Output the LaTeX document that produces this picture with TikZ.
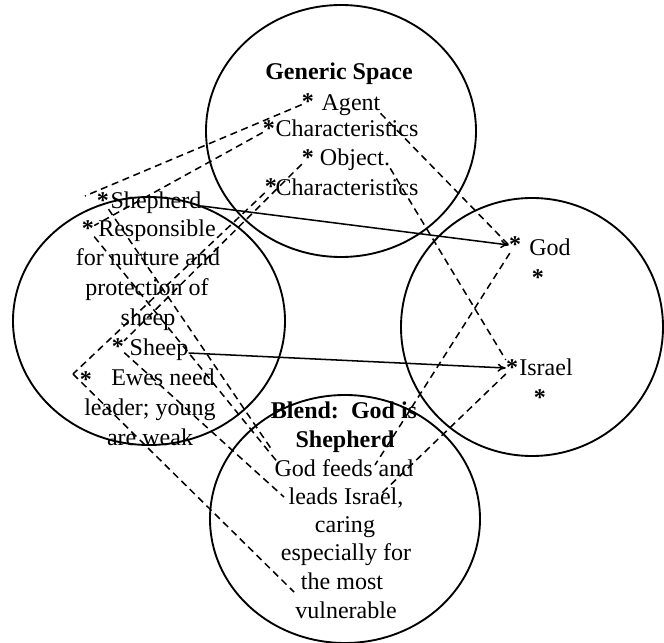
\documentclass[tikz,border=0pt]{standalone}
\usepackage{fontspec}
\setmainfont{Liberation Serif}
\usetikzlibrary{arrows.meta,positioning}
\newcommand{\astmark}{\raisebox{-.28em}{*}}
\begin{document}
\begin{tikzpicture}[x=0.03cm,y=-0.03cm,
    space/.style={draw,line width=1.6pt},
    txt/.style={inner sep=0pt,text height=.68em,text depth=.2em,font=\fontsize{20.5}{25}\selectfont},
    head/.style={txt,font=\fontsize{20.5}{25}\selectfont\bfseries},
    asterisk/.style={inner sep=0pt,font=\fontsize{20.5}{25}\selectfont\bfseries},
    map/.style={line width=1.3pt,dash pattern=on 6pt off 4pt},
    link/.style={line width=1.3pt,-{To[length=7pt,width=7pt]}}]

  \useasboundingbox (0,0) rectangle (664,643);

  % the four spaces
  \draw[space] (341,131) ellipse [x radius=135,y radius=126];  % generic
  \draw[space] (149,321) ellipse [x radius=136,y radius=124];  % input 1
  \draw[space] (532,327) ellipse [x radius=131,y radius=129];  % input 2
  \draw[space] (345,519) ellipse [x radius=135,y radius=124];  % blend

  %==========================
  % Generic space
  %==========================
  \node[head] (gen) at (339,77) {Generic Space};
  \node[txt] (agent) at (351,108) {Agent};
  \node[asterisk] (sAgent) at (308,102) {\astmark};
  \node[txt] (char1) at (347,134) {Characteristics};
  \node[asterisk] (sChar1) at (269,129) {\astmark};
  \node[txt] (obj) at (355,163) {Object.};
  \node[asterisk] (sObj) at (308,158) {\astmark};
  \node[txt] (char2) at (347,193) {Characteristics};
  \node[asterisk] (sChar2) at (271,187) {\astmark};

  %==========================
  % Input 1: shepherd
  %==========================
  \node[txt] (shep) at (156,206) {Shepherd};
  \node[asterisk] (sShep) at (103,201) {\astmark};
  \node[txt] (resp) at (157,234) {Responsible};
  \node[asterisk] (sResp) at (88,229) {\astmark};
  \node[txt] (nurt) at (148,263) {for nurture and};
  \node[txt] (prot) at (147,293) {protection of};
  \node[txt] (flock) at (148,323) {sheep};
  \node[txt] (sheep) at (159,353) {Sheep};
  \node[asterisk] (sSheep) at (118,347) {\astmark};
  \node[txt] (ewes) at (163,383) {Ewes need};
  \node[asterisk] (sEwes) at (86,380) {\astmark};
  \node[txt] (lead) at (150,413) {leader; young};
  \node[txt] (weak) at (150,443) {are weak};

  %==========================
  % Input 2: God
  %==========================
  \node[txt] (god) at (550,253) {God};
  \node[asterisk] (sGod) at (515,245) {\astmark};
  \node[asterisk] (sGodB) at (538,278) {\astmark};
  \node[txt] (isr) at (546,373) {Israel};
  \node[asterisk] (sIsr) at (512,368) {\astmark};
  \node[asterisk] (sIsrB) at (540,398) {\astmark};

  %==========================
  % Blend
  %==========================
  \node[head] (bl1) at (344,416) {Blend:\enspace God is};
  \node[head] (bl2) at (345,445) {Shepherd};
  \node[txt] (bl3) at (344,474) {God feeds and};
  \node[txt] (bl4) at (346,502) {leads Israel,};
  \node[txt] (bl5) at (345,530) {caring};
  \node[txt] (bl6) at (346,558) {especially for};
  \node[txt] (bl7) at (342,587) {the most};
  \node[txt] (bl8) at (346,616) {vulnerable};

  % free ends of the mappings
  \coordinate (shepTip) at (85,196);
  \coordinate (ewesTip) at (73,374);
  \coordinate (bShep) at (272,450);
  \coordinate (bGod) at (279,464);
  \coordinate (bLeads) at (284,497);
  \coordinate (bMost) at (294,592);
  \coordinate (bAnd) at (375,465);
  \coordinate (bIsr) at (381,494);

  % cross-space mapping
  \draw[link] (shep.east) -- (sGod.west);
  \draw[link] (sheep.east) -- (sIsr.west);

  % generic -> inputs
  \draw[map] (sAgent) -- (shepTip);
  \draw[map] (sChar1) -- (sResp);
  \draw[map] (sObj) -- (sSheep);
  \draw[map] (sChar2) -- (ewesTip);
  \draw[map] (agent.south east) -- (sGod.west);
  \draw[map] (obj.south east) -- (sIsr.north west);

  % inputs -> blend
  \draw[map] (sShep) -- (bShep);
  \draw[map] (sResp) -- (bGod);
  \draw[map] (sSheep) -- (bLeads);
  \draw[map] (ewesTip) -- (bMost);
  \draw[map] (sGod) -- (bAnd);
  \draw[map] (sIsr) -- (bIsr);

\end{tikzpicture}
\end{document}
